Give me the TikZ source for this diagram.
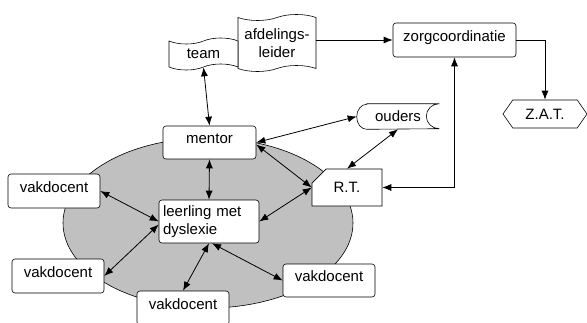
\documentclass[tikz,border=0pt]{standalone}
\usepackage{fontspec}
\setmainfont{Liberation Sans}
\usetikzlibrary{positioning}
\usetikzlibrary{shapes, arrows.meta}
\definecolor{klasgrijs}{RGB}{192,192,192}
\tikzstyle{box} = [rectangle, draw, fill=white, rounded corners=3pt, inner sep=0pt]
\tikzstyle{lifted} = [text height=11pt, text depth=9pt]
\tikzstyle{vak} = [box, lifted, minimum width=92pt, minimum height=34pt]
\tikzstyle{banner} = [tape, draw, fill=white, align=center, inner sep=0pt, tape bend height=6pt]
\tikzstyle{line} = [draw, line width=0.8pt, {Latex[length=9pt,width=7pt]}-{Latex[length=9pt,width=7pt]}]
\tikzstyle{toline} = [draw, line width=0.8pt, -{Latex[length=9pt,width=7pt]}]

\begin{document}
\begin{tikzpicture}[x=1pt, y=-1pt, font=\fontsize{15}{18}\selectfont, line width=0.6pt]
    \useasboundingbox (0,0) rectangle (587,322);
    \clip (0,0) rectangle (587,322);
    \node [ellipse, draw, fill=klasgrijs, minimum width=290pt, minimum height=170pt, inner sep=0pt] (klas) at (208,223) {};

    \node [banner, minimum width=78pt, minimum height=57pt] (leider) at (277,43) {afdelings-\\leider};
    \node [banner, minimum width=69pt, minimum height=32pt] (team) at (203.5,54) {team};
    \node [box, lifted, minimum width=123pt, minimum height=34pt] (zorg) at (454.5,40) {zorgcoordinatie};
    \node [signal, signal to=west and east, signal pointer angle=110, draw, minimum width=84pt, minimum height=28pt, inner sep=0pt] (zat) at (545,114) {Z.A.T.};
    \node [minimum width=82pt, minimum height=25pt, inner sep=0pt] (ouders) at (398,116.5) {ouders};
    \draw ([xshift=10pt]ouders.north west) -- (ouders.north east) arc (90:270:13pt and 12.5pt) -- ([xshift=10pt]ouders.south west) arc (270:90:10pt and 12.5pt) -- cycle;
    \node [chamfered rectangle, chamfered rectangle corners=north west, chamfered rectangle sep=9pt, draw, fill=white, minimum width=70pt, minimum height=37pt, inner sep=0pt] (rt) at (347,187.5) {R.T.};
    \node [box, lifted, minimum width=93pt, minimum height=33pt] (mentor) at (209.5,142.5) {mentor};
    \node [box, align=left, text width=92pt, inner xsep=4pt, minimum height=43pt] (leerling) at (209,221.5) {leerling met\\dyslexie};
    \node [vak] (vak1) at (54,191) {vakdocent};
    \node [vak] (vak2) at (58,276) {vakdocent};
    \node [vak] (vak3) at (183,308) {vakdocent};
    \node [vak, minimum height=33pt] (vak4) at (329,280.5) {vakdocent};

    \path [line] (team.south) -- (mentor.north);
    \path [toline] (leider.east |- zorg.west) -- (zorg.west);
    \path [toline] (zorg.east) -| (zat.north);
    \path [line] (rt.east) -| (zorg.south);
    \path [line] (mentor.east) -- (ouders.west);
    \path [line] (ouders.south) -- (rt.north);
    \path [line] ([yshift=-2pt]mentor.east) -- (rt.west);
    \path [line] (leerling.east) -- (rt.west);
    \path [line] (mentor.south) -- (leerling.north);
    \path [line] (vak1.east) -- (leerling.west);
    \path [line] (vak2.east) -- ([yshift=-3pt]leerling.west);
    \path [line] (vak3.north) -- (leerling.south);
    \path [line] ([xshift=3pt]leerling.south) -- (vak4.west);
\end{tikzpicture}
\end{document}
